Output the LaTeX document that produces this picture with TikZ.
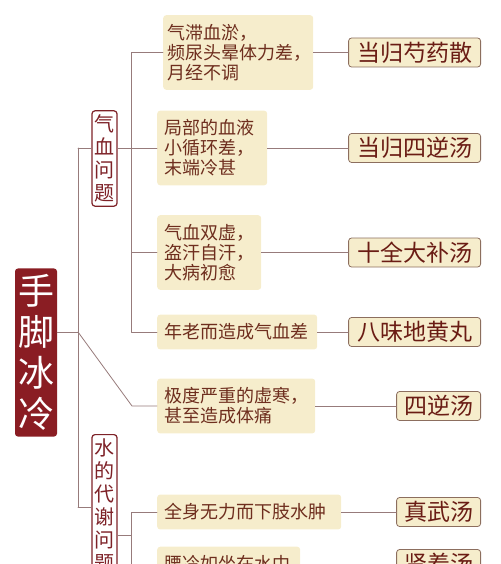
\documentclass[tikz,border=0pt]{standalone}
\usepackage{fontspec}
\newfontfamily\cjk{Noto Sans CJK SC}
\definecolor{rootred}{HTML}{8A1D23}
\definecolor{topicred}{HTML}{7E2228}
\definecolor{leafbeige}{HTML}{F6EDCC}
\definecolor{leaftext}{HTML}{6E2E1E}
\definecolor{remtext}{HTML}{6A1C14}
\definecolor{remline}{HTML}{8C6E5E}
\definecolor{linkgray}{HTML}{977B7B}

\begin{document}
\begin{tikzpicture}[
	x=1pt, y=-1pt,
	every node/.style={font=\cjk},
	line cap=round,
	line join=round,
	link/.style={draw=linkgray, line width=0.8pt},
	rootbox/.style={fill=rootred, text=white, rounded corners=3pt, align=center,
		text width=36pt, inner xsep=3pt, inner ysep=6pt,
		font=\cjk\fontsize{36}{41}\selectfont},
	topic/.style={draw=topicred, fill=white, text=topicred, line width=1.2pt,
		rounded corners=3pt, align=center, text width=20pt, inner xsep=2.5pt,
		inner ysep=4pt, font=\cjk\fontsize{20}{23}\selectfont},
	leaf/.style={fill=leafbeige, text=leaftext, rounded corners=3pt, align=left,
		inner xsep=7pt, inner ysep=9pt, anchor=west,
		font=\cjk\fontsize{18}{20}\selectfont},
	remedy/.style={fill=leafbeige, draw=remline, text=remtext, line width=0.8pt,
		rounded corners=3pt, minimum height=29pt, inner ysep=1pt, anchor=east,
		font=\cjk\fontsize{23}{25}\selectfont}
	]
	
	% Visible frame
	\useasboundingbox (0,0) rectangle (500,564);
	\clip (0,0) rectangle (500,564);
	
	% Root
	\node[rootbox] (root) at (36,352.5) {手\\脚\\冰\\冷};
	
	% Topics
	\node[topic] (qixue) at (104.5,158.5) {气\\血\\问\\题};
	\node[topic, anchor=north] (shui) at (104.5,434) {水\\的\\代\\谢\\问\\题};
	
	% Symptoms
	\node[leaf, text width=142pt, inner xsep=4pt] (zhi) at (163,52.5) {气滞血淤，\\频尿头晕体力差，\\月经不调};
	\node[leaf, text width=96pt] (jubu) at (157,148) {局部的血液\\小循环差，\\末端冷甚};
	\node[leaf, text width=90pt] (xu) at (157,252.5) {气血双虚，\\盗汗自汗，\\大病初愈};
	\node[leaf, text width=146pt] (lao) at (157,332) {年老而造成气血差};
	\node[leaf, text width=144pt] (han) at (157,406) {极度严重的虚寒，\\甚至造成体痛};
	\node[leaf, text width=170pt] (zhong) at (157,512) {全身无力而下肢水肿};
	\node[leaf, text width=129pt] (yao) at (157,564) {腰冷如坐在水中};
	
	% Remedies
	\node[remedy, minimum width=132pt] (shaoyao) at (481,52.5) {当归芍药散};
	\node[remedy, minimum width=132pt] (sini) at (481,148) {当归四逆汤};
	\node[remedy, minimum width=132pt] (buxue) at (481,252.5) {十全大补汤};
	\node[remedy, minimum width=132pt] (bawei) at (481,332) {八味地黄丸};
	\node[remedy, minimum width=84pt] (sinitang) at (481,406) {四逆汤};
	\node[remedy, minimum width=84pt] (zhenwu) at (481,512) {真武汤};
	\node[remedy, minimum width=84pt] (shenzhuo) at (481,564) {肾着汤};
	
	% Junctions
	\coordinate (t0) at (78,332);
	\coordinate (t1) at (78,148);
	\coordinate (t2) at (78,507);
	\coordinate (b1) at (131,148);
	\coordinate (b2) at (131,535);
	\coordinate (bend) at (132,406);
	
	% Trunk and topics
	\draw[link] (root.east |- t0) -- (t0);
	\draw[link] (t1) -- (t2);
	\draw[link] (t1) -- (qixue.west |- t1);
	\draw[link] (qixue.east |- b1) -- (b1);
	\draw[link] (t2) -- (shui.west |- t2);
	\draw[link] (shui.east |- b2) -- (b2);
	\draw[link] (t0) -- (bend) -- (han.west);
	
	% Topic to symptoms
	\foreach \n in {zhi,jubu,xu,lao}
	\draw[link] (b1) |- (\n.west);
	\foreach \n in {zhong,yao}
	\draw[link] (b2) |- (\n.west);
	
	% Symptoms to remedies
	\foreach \a/\b in {zhi/shaoyao,jubu/sini,xu/buxue,lao/bawei,han/sinitang,zhong/zhenwu,yao/shenzhuo}
	\draw[link] (\a.east) -- (\b.west);
	
\end{tikzpicture}
\end{document}
